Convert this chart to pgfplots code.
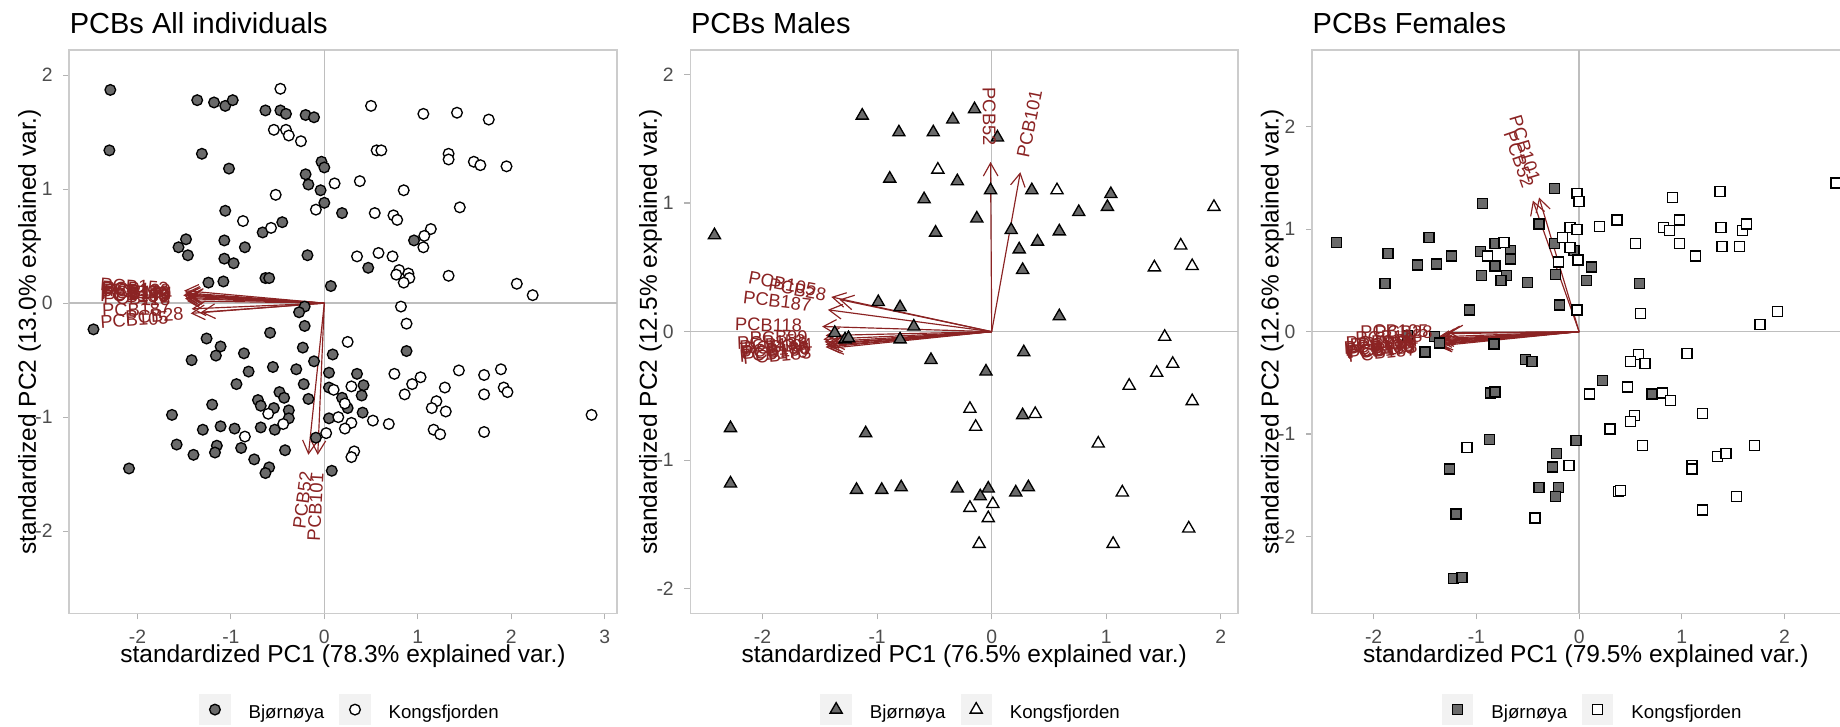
\documentclass[border=0pt]{standalone}
\usepackage{fontspec}
\setmainfont{Liberation Sans}
\usepackage{pgfplots}
\pgfplotsset{compat=1.18}
\usetikzlibrary{arrows.meta}
\definecolor{bjfill}{HTML}{6A6A6A}
\definecolor{arrowred}{HTML}{8B2323}
\definecolor{zerogray}{HTML}{BEBEBE}
\definecolor{bordergray}{HTML}{CCCCCC}
\definecolor{tickgray}{HTML}{B3B3B3}
\definecolor{ticktext}{HTML}{4D4D4D}
\newcommand{\fs}[1]{\fontsize{#1}{#1}\selectfont}
\pgfplotsset{
  keybox/.style={legend image code/.code={\fill[black!5] (-4.5pt,-4.5pt) rectangle (4.5pt,4.5pt);\draw[##1] plot coordinates {(0pt,0pt)};}},
  pcabase/.style={
    scale only axis, width=164.28pt, height=168.99pt, anchor=south west,
    axis line style={draw=bordergray, line width=0.45pt},
    tick align=outside, major tick length=1.8pt, tick pos=left,
    tick style={draw=tickgray, line width=0.35pt},
    xticklabel style={font=\fs{5.8}, text=ticktext, inner sep=0pt, anchor=base, yshift=-7.4pt},
    yticklabel style={font=\fs{5.8}, text=ticktext, inner sep=0pt, anchor=east, xshift=-3pt},
    every axis title/.style={font=\fs{8.7}, at={(axis description cs:0,1)}, anchor=base west, inner sep=0pt, yshift=5.1pt},
    xlabel style={font=\fs{7.35}, at={(axis description cs:0.5,-0.0882)}, anchor=base, inner sep=0pt},
    ylabel style={font=\fs{7.35}, at={(axis description cs:-0.061,0.5)}, rotate=0, anchor=base, inner sep=0pt},
    extra x ticks={0}, extra x tick labels={}, extra y ticks={0}, extra y tick labels={},
    extra tick style={grid=major, major grid style={draw=zerogray, line width=0.45pt}, major tick length=0pt},
    legend columns=2,
    legend style={at={(axis description cs:0.517,-0.1752)}, anchor=center, draw=none, fill=none,
      inner sep=0pt, outer sep=0pt, font=\fs{5.6}, cells={anchor=mid west, inner sep=0pt},
      /tikz/every odd column/.append style={column sep=3.4pt},
      /tikz/every even column/.append style={column sep=2.5pt}},
  },
  pbj/.style={only marks, mark=#1, keybox, mark options={draw=black, fill=bjfill, line width=0.4pt}},
  pko/.style={only marks, mark=#1, keybox, mark options={draw=black, fill=white, line width=0.4pt}},
  arr/.style={forget plot, no markers, arrowred, line width=0.35pt, -{Straight Barb[length=3.9pt,width=4.4pt]}, quiver={u=\thisrow{u},v=\thisrow{v}}},
  lbl/.style={forget plot, only marks, mark=none, point meta=explicit symbolic, nodes near coords={\pgfplotspointmeta},
    visualization depends on={value \thisrow{a}\as\ang},
    every node near coord/.style={anchor=#1, rotate=\ang, inner sep=0pt, font=\fs{5.5}, text=arrowred}},
}
\begin{document}
\begin{tikzpicture}
% ---------------- Panel 1 ----------------
\begin{axis}[pcabase, at={(0pt,0pt)},
  title={PCBs All individuals},
  xlabel={standardized PC1 (78.3\% explained var.)},
  ylabel={standardized PC2 (13.0\% explained var.)},
  xmin=-2.73, xmax=3.13, ymin=-2.72, ymax=2.22,
  xtick={-2,-1,0,1,2,3}, xticklabels={-2,-1,0,1,2,3},
  ytick={-2,-1,0,1,2}, yticklabels={-2,-1,0,1,2}]
\addplot[arr] table {
x y u v
0 0 -1.50 0.11
0 0 -1.49 0.09
0 0 -1.48 0.08
0 0 -1.51 0.07
0 0 -1.46 0.06
0 0 -1.48 0.05
0 0 -1.45 0.07
0 0 -1.49 0.04
0 0 -1.47 0.02
0 0 -1.42 -0.05
0 0 -1.43 -0.09
0 0 -1.32 -0.08
0 0 -0.17 -1.33
0 0 -0.07 -1.33
};
\addplot[pbj=*, mark size=1.6pt] coordinates {
(-2.29,1.87) (-2.30,1.34) (-1.36,1.78) (-1.18,1.76) (-1.06,1.73) (-0.98,1.78)
(-0.63,1.69) (-0.47,1.69) (-0.41,1.66) (-0.20,1.65) (-0.11,1.63) (-1.31,1.31)
(-1.02,1.18) (-0.03,1.24) (0.00,1.19) (-0.20,1.13) (-0.17,1.04) (-0.04,0.99)
(0.00,0.88) (0.19,0.79) (-1.06,0.81) (-0.45,0.71) (-0.66,0.62) (-1.56,0.49)
(-1.48,0.56) (-1.46,0.42) (-1.07,0.55) (-0.85,0.49) (-1.07,0.39) (-0.97,0.35)
(-0.18,0.42) (-1.24,0.18) (-1.08,0.19) (-0.63,0.22) (-0.59,0.22) (0.07,0.15)
(0.47,0.31) (0.96,0.55) (-0.21,-0.03) (-0.27,-0.08) (-2.47,-0.23) (-0.21,-0.20)
(-0.58,-0.26) (-1.26,-0.31) (-1.11,-0.38) (-1.16,-0.46) (-1.42,-0.50) (-0.86,-0.44)
(-0.23,-0.39) (0.09,-0.45) (0.88,-0.42) (-0.11,-0.51) (-0.55,-0.56) (-0.81,-0.60)
(-0.30,-0.58) (-0.94,-0.71) (-0.22,-0.71) (0.05,-0.61) (0.35,-0.62) (0.05,-0.74)
(0.42,-0.72) (-0.48,-0.78) (-0.43,-0.83) (-0.71,-0.85) (-0.68,-0.90) (-0.17,-0.84)
(-0.54,-0.92) (0.19,-0.83) (0.40,-0.81) (0.25,-0.92) (-0.38,-0.94) (-0.38,-1.01)
(-1.20,-0.89) (-1.63,-0.98) (0.41,-0.96) (0.05,-1.01) (-1.30,-1.11) (-1.11,-1.08)
(-0.96,-1.10) (-0.68,-1.09) (-0.53,-1.11) (-1.58,-1.24) (-1.15,-1.25) (-1.17,-1.31)
(-1.40,-1.33) (-0.89,-1.27) (-0.42,-1.29) (-0.75,-1.37) (-0.59,-1.44) (-0.63,-1.49)
(-2.09,-1.45) (-0.09,-1.18) (0.08,-1.47)
};
\addlegendentry{Bjørnøya}
\addplot[pko=*, mark size=1.6pt] coordinates {
(-0.47,1.88) (0.50,1.73) (1.06,1.66) (1.42,1.67) (1.76,1.61) (-0.54,1.52)
(-0.41,1.52) (-0.38,1.47) (-0.25,1.42) (0.56,1.34) (0.61,1.34) (1.33,1.31)
(1.33,1.26) (1.60,1.24) (1.67,1.21) (1.95,1.20) (0.11,1.05) (0.38,1.07)
(0.85,0.99) (-0.52,0.95) (1.45,0.84) (-0.09,0.82) (0.54,0.79) (0.74,0.77)
(0.78,0.73) (1.14,0.65) (1.07,0.59) (1.06,0.49) (-0.87,0.72) (-0.57,0.66)
(0.35,0.41) (0.58,0.44) (0.73,0.41) (0.80,0.29) (0.77,0.25) (0.90,0.26)
(0.91,0.22) (0.85,0.18) (1.33,0.24) (2.06,0.17) (2.23,0.07) (0.82,-0.03)
(0.88,-0.18) (0.25,-0.34) (0.75,-0.62) (1.03,-0.65) (1.44,-0.59) (1.71,-0.63)
(1.89,-0.58) (0.94,-0.71) (1.29,-0.74) (1.92,-0.74) (1.96,-0.78) (1.71,-0.80)
(0.86,-0.80) (0.29,-0.73) (0.10,-0.76) (0.22,-0.88) (1.20,-0.86) (1.15,-0.92)
(1.30,-0.95) (0.15,-1.00) (0.29,-1.05) (0.22,-1.10) (0.52,-1.03) (0.69,-1.06)
(1.17,-1.11) (1.24,-1.15) (1.71,-1.13) (2.86,-0.98) (0.02,-1.14) (-0.60,-0.97)
(-0.44,-1.06) (-0.85,-1.17) (0.32,-1.30) (0.29,-1.35)
};
\addlegendentry{Kongsfjorden}
\addplot[lbl=east] table[meta=lab] {
x y a lab
-1.66 0.125 -4.2 PCB153
-1.64 0.105 -3.5 PCB138
-1.65 0.095 -3.1 PCB180
-1.67 0.085 -2.7 PCB99
-1.63 0.075 -2.4 PCB170
-1.65 0.065 -1.9 PCB183
-1.62 0.085 -2.8 PCB194
-1.66 0.055 -1.5 PCB156
-1.64 0.035 -0.8 PCB118
-1.64 -0.045 2.0 PCB187
-1.66 -0.125 3.6 PCB105
-1.50 -0.095 3.5 PCB28
-0.19 -1.47 82.7 PCB52
-0.075 -1.48 87.0 PCB101
};
\end{axis}
% ---------------- Panel 2 ----------------
\begin{axis}[pcabase, at={(186.36pt,0pt)},
  title={PCBs Males},
  xlabel={standardized PC1 (76.5\% explained var.)},
  ylabel={standardized PC2 (12.5\% explained var.)},
  xmin=-2.63, xmax=2.15, ymin=-2.19, ymax=2.19,
  xtick={-2,-1,0,1,2}, xticklabels={-2,-1,0,1,2},
  ytick={-2,-1,0,1,2}, yticklabels={-2,-1,0,1,2}]
\addplot[arr] table {
x y u v
0 0 -1.40 0.27
0 0 -1.33 0.25
0 0 -1.43 0.17
0 0 -1.48 0.04
0 0 -1.45 -0.03
0 0 -1.47 -0.06
0 0 -1.46 -0.08
0 0 -1.41 -0.09
0 0 -1.45 -0.10
0 0 -1.43 -0.11
0 0 -1.45 -0.12
0 0 -1.42 -0.13
0 0 -0.01 1.32
0 0 0.25 1.24
};
\addplot[pbj=triangle*, mark size=2.1pt] coordinates {
(-2.42,0.75) (-1.13,1.68) (-0.81,1.55) (-0.51,1.55) (-0.34,1.65) (-0.15,1.73)
(0.05,1.51) (-0.89,1.19) (-0.30,1.17) (-0.59,1.03) (-0.01,1.10) (0.35,1.10)
(0.76,0.93) (1.01,0.97) (1.04,1.07) (-0.13,0.88) (-0.49,0.77) (0.17,0.79)
(0.59,0.78) (0.24,0.64) (0.40,0.70) (0.27,0.48) (0.59,0.12) (-0.99,0.23)
(-0.80,0.19) (-0.68,0.04) (-1.37,-0.01) (-1.28,-0.06) (-1.25,-0.05) (-0.80,-0.06)
(-0.53,-0.22) (-0.05,-0.31) (0.28,-0.16) (0.27,-0.65) (-2.28,-0.75) (-1.10,-0.79)
(-2.28,-1.18) (-1.18,-1.23) (-0.96,-1.23) (-0.79,-1.21) (-0.30,-1.22) (-0.03,-1.22)
(-0.10,-1.28) (0.21,-1.25) (0.32,-1.21)
};
\addlegendentry{Bjørnøya}
\addplot[pko=triangle*, mark size=2.1pt] coordinates {
(-0.47,1.26) (0.57,1.10) (1.94,0.97) (1.65,0.67) (1.42,0.50) (1.75,0.51)
(1.51,-0.04) (1.58,-0.25) (1.44,-0.32) (1.20,-0.42) (1.75,-0.54) (-0.19,-0.60)
(0.38,-0.64) (-0.14,-0.74) (0.93,-0.87) (1.14,-1.25) (-0.19,-1.37) (0.01,-1.34)
(-0.03,-1.45) (-0.11,-1.65) (1.06,-1.65) (1.72,-1.53)
};
\addlegendentry{Kongsfjorden}
\addplot[lbl=east] table[meta=lab] {
x y a lab
-1.53 0.32 -10.9 PCB105
-1.44 0.285 -10.6 PCB28
-1.57 0.205 -6.8 PCB187
-1.65 0.045 -1.5 PCB118
-1.60 -0.04 1.2 PCB99
-1.62 -0.07 2.3 PCB153
-1.60 -0.09 3.1 PCB138
-1.56 -0.10 3.7 PCB194
-1.59 -0.12 3.9 PCB180
-1.58 -0.13 4.4 PCB156
-1.60 -0.15 4.7 PCB170
-1.57 -0.16 5.2 PCB183
-0.02 1.44 -89.6 PCB52
};
\addplot[lbl=west] table[meta=lab] {
x y a lab
0.27 1.35 78.6 PCB101
};
\end{axis}
% ---------------- Panel 3 ----------------
\begin{axis}[pcabase, at={(372.84pt,0pt)},
  title={PCBs Females},
  xlabel={standardized PC1 (79.5\% explained var.)},
  ylabel={standardized PC2 (12.6\% explained var.)},
  xmin=-2.60, xmax=2.73, ymin=-2.75, ymax=2.75,
  xtick={-2,-1,0,1,2}, xticklabels={-2,-1,0,1,2},
  ytick={-2,-1,0,1,2}, yticklabels={-2,-1,0,1,2}]
\addplot[arr] table {
x y u v
0 0 -1.27 -0.01
0 0 -1.30 -0.02
0 0 -1.35 -0.05
0 0 -1.42 -0.10
0 0 -1.41 -0.11
0 0 -1.40 -0.12
0 0 -1.38 -0.09
0 0 -1.39 -0.13
0 0 -1.37 -0.12
0 0 -1.36 -0.08
0 0 -1.40 -0.07
0 0 -1.38 -0.14
0 0 -0.45 1.28
0 0 -0.39 1.31
};
\addplot[pbj=square*, mark size=1.5pt] coordinates {
(-2.36,0.87) (-1.86,0.76) (-1.89,0.47) (-1.46,0.92) (-1.57,0.65) (-1.39,0.66)
(-1.24,0.74) (-0.94,1.25) (-0.96,0.78) (-0.82,0.86) (-0.67,0.79) (-0.67,0.71)
(-0.82,0.64) (-0.95,0.55) (-0.71,0.55) (-0.76,0.50) (-0.50,0.48) (-1.07,0.21)
(-0.39,1.05) (-0.24,1.40) (-0.24,0.86) (-0.23,0.56) (-0.05,0.79) (0.12,0.63)
(0.07,0.50) (-0.19,0.26) (0.59,0.47) (-1.67,-0.04) (-1.41,-0.05) (-1.36,-0.11)
(-1.50,-0.20) (-0.83,-0.12) (-0.52,-0.27) (-0.46,-0.29) (0.23,-0.48) (-0.86,-0.60)
(-0.82,-0.59) (0.71,-0.61) (-0.87,-1.05) (-0.03,-1.06) (-0.22,-1.19) (-1.26,-1.34)
(-0.26,-1.32) (-0.39,-1.52) (-0.20,-1.52) (-0.23,-1.61) (-1.20,-1.78) (-1.22,-2.41)
(-1.14,-2.40)
};
\addlegendentry{Bjørnøya}
\addplot[pko=square*, mark size=1.5pt] coordinates {
(-0.73,0.87) (-0.89,0.74) (-0.02,1.35) (0.00,1.27) (-0.09,1.02) (-0.02,1.00)
(-0.16,0.92) (-0.09,0.82) (-0.20,0.68) (-0.01,0.70) (-0.02,0.21) (0.20,1.03)
(0.37,1.09) (0.55,0.86) (0.91,1.31) (0.82,1.02) (0.88,0.99) (0.98,1.09)
(0.98,0.86) (1.13,0.74) (1.37,1.37) (1.38,1.02) (1.39,0.83) (1.56,0.83)
(1.59,0.99) (1.63,1.05) (2.50,1.45) (0.60,0.18) (1.76,0.07) (1.93,0.20)
(1.05,-0.21) (0.58,-0.22) (0.50,-0.29) (0.64,-0.31) (0.10,-0.61) (0.47,-0.54)
(0.81,-0.60) (0.89,-0.67) (1.20,-0.80) (0.54,-0.82) (0.50,-0.88) (0.30,-0.95)
(0.62,-1.11) (1.71,-1.11) (1.35,-1.22) (1.43,-1.19) (1.10,-1.31) (1.10,-1.34)
(-0.10,-1.31) (-1.09,-1.13) (0.38,-1.56) (0.40,-1.55) (1.53,-1.61) (1.20,-1.74)
(-0.43,-1.82)
};
\addlegendentry{Kongsfjorden}
\addplot[lbl=east] table[meta=lab] {
x y a lab
-1.42 0.00 0.5 PCB28
-1.46 0.01 0.9 PCB105
-1.52 -0.04 2.1 PCB118
-1.62 -0.11 4.0 PCB153
-1.61 -0.13 4.5 PCB138
-1.60 -0.14 4.9 PCB180
-1.58 -0.10 3.7 PCB99
-1.59 -0.15 5.3 PCB170
-1.57 -0.14 5.0 PCB183
-1.56 -0.09 3.4 PCB194
-1.60 -0.08 2.9 PCB156
-1.58 -0.17 5.8 PCB187
-0.49 1.41 -70.6 PCB52
-0.43 1.46 -73.4 PCB101
};
\end{axis}
\pgfresetboundingbox
\useasboundingbox (-20.76pt,-33.81pt) rectangle (531.24pt,183.99pt);
\end{tikzpicture}
\end{document}
